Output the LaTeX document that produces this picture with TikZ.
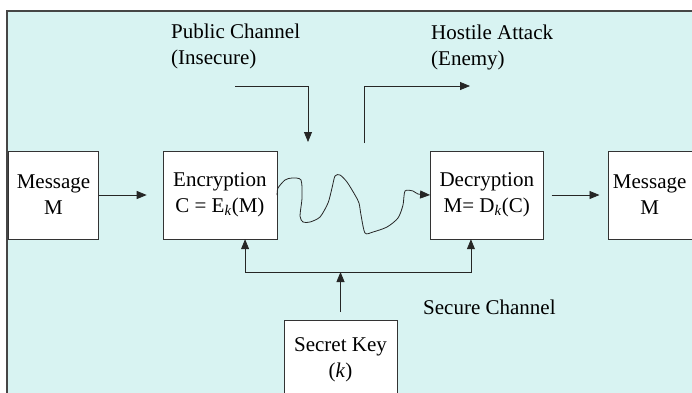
\documentclass[tikz,border=0pt]{standalone}
\usepackage{fontspec}
\setmainfont{Liberation Serif}
\usetikzlibrary{arrows.meta,positioning,calc}
\definecolor{panelbg}{RGB}{216,243,242}
\definecolor{panelrule}{RGB}{70,70,70}
\newcommand{\keysub}{\textsubscript{\textit{k}}}

\begin{document}
\begin{tikzpicture}[x=1pt, y=-1pt,
  box/.style={draw=black!80, fill=white, align=center, inner sep=0pt,
              font=\fontsize{21}{26}\selectfont, minimum height=88pt},
  lbl/.style={align=left, inner sep=0pt, font=\fontsize{21}{26}\selectfont},
  arr/.style={-{Triangle[length=10pt,width=8pt]}, line width=0.8pt, black!85}]
  \useasboundingbox (0,0) rectangle (692,392);
  % panel
  \fill[panelbg] (7,11) rectangle (700,400);
  \draw[panelrule, line width=1.8pt] (7,400) -- (7,11) -- (700,11);
  % boxes
  \node[box, minimum width=90pt] (msgL) at (53.5,195) {Message\\M};
  \node[box, minimum width=114pt, right=64pt of msgL] (enc) {Encryption\\C = E\keysub(M)};
  \node[box, minimum width=113pt, right=153pt of enc] (dec) {Decryption\\M= D\keysub(C)};
  \node[box, minimum width=84pt, right=64pt of dec] (msgR) {Message\\M};
  \node[box, minimum width=113pt, minimum height=80pt, anchor=north] (key) at (340.5,320) {Secret Key\\(\textit{k})};
  % labels (base = last line)
  \node[lbl, anchor=base west] (pub) at (171,64) {Public Channel\\(Insecure)};
  \node[lbl, anchor=base west] (host) at (431,65) {Hostile Attack\\(Enemy)};
  \node[lbl, anchor=base west] (sec) at (423,314) {Secure Channel};
  % free ends
  \coordinate (pubin) at (235,86);
  \coordinate (pubout) at (308,142);
  \coordinate (tapin) at (364,143);
  \coordinate (tapout) at (470,86);
  \coordinate (keyjoin) at (340.5,272);
  % connectors
  \draw[arr, shorten >=16pt] (msgL) -- (enc);
  \draw[arr, shorten <=8pt, shorten >=8pt] (dec) -- (msgR);
  \draw[arr] (pubin) -| (pubout);
  \draw[arr] (tapin) |- (tapout);
  \draw[arr, shorten <=8pt] (key.north) -- (keyjoin);
  \draw[arr] (keyjoin) -| ($(enc.south west)!0.72!(enc.south east)$);
  \draw[arr] (keyjoin) -| ($(dec.south west)!0.36!(dec.south east)$);
  % insecure channel
  \draw[arr] plot[smooth, tension=0.45] coordinates {(enc.east) (278,188) (285,180) (292,178)
    (301,180) (302,198) (300,216) (303,222) (310,222) (320,217) (328,203) (332,188) (335,176)
    (340,175) (347,182) (355,195) (359,203) (361,215) (365,233) (373,232) (387,227) (398,218)
    (403,205) (405,191) (413,191) (418,194) (dec.west)};
\end{tikzpicture}
\end{document}
